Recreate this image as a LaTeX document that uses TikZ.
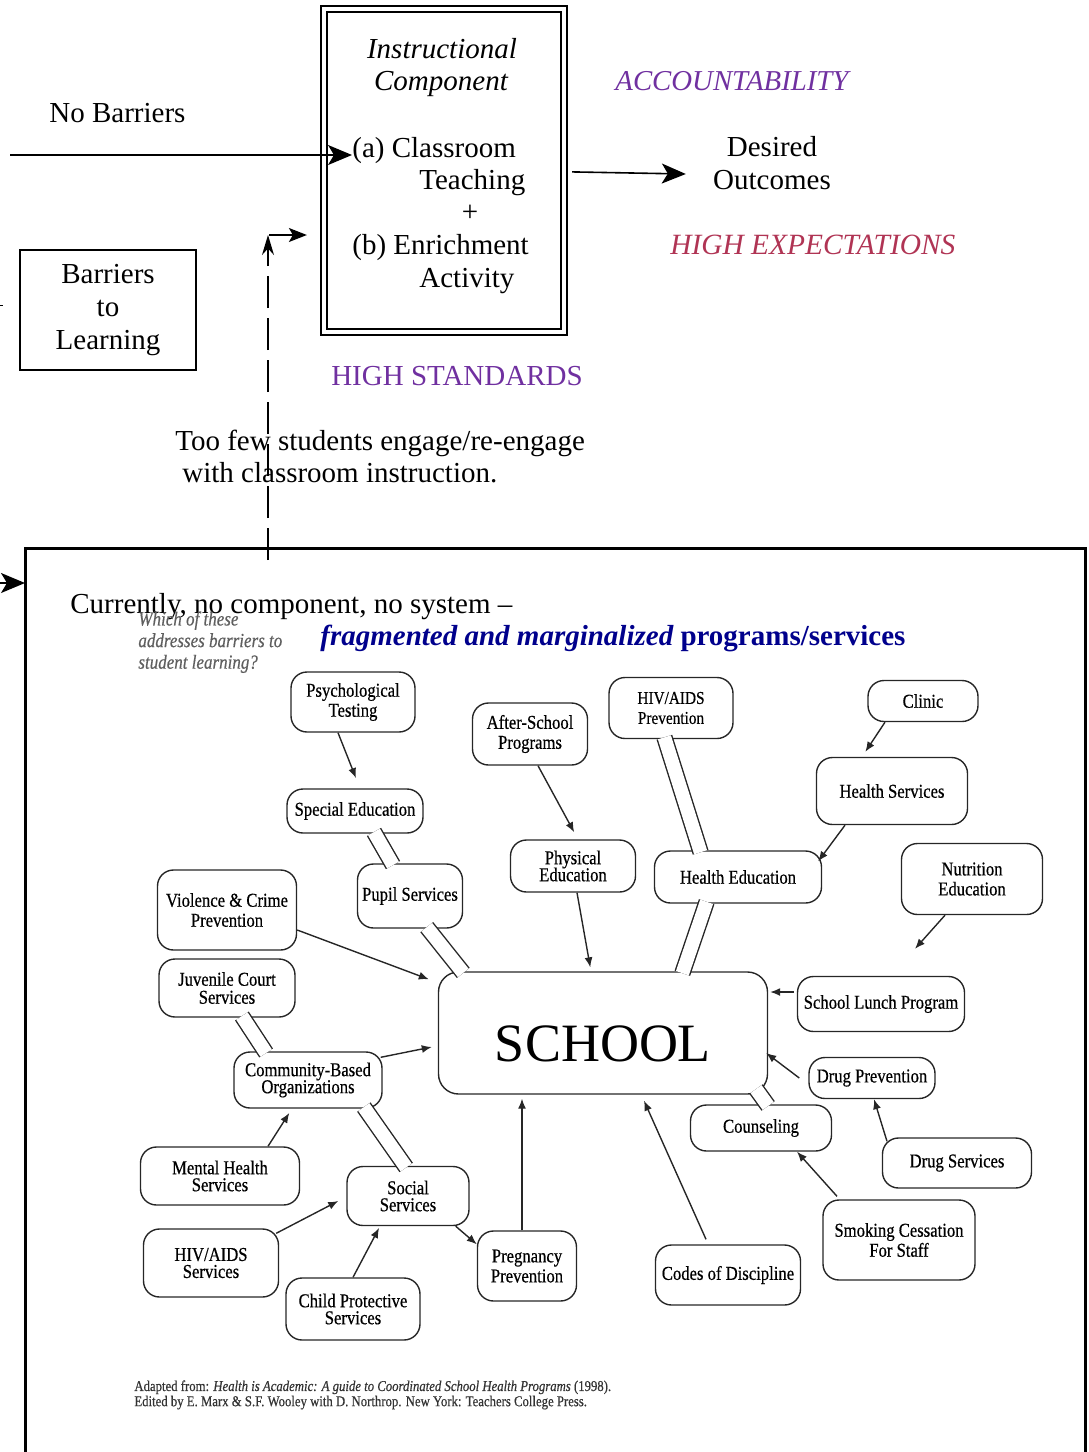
\documentclass[tikz,border=0pt]{standalone}
\usepackage{fontspec}
\setmainfont{Liberation Serif}
\newfontfamily\scanfont[FakeStretch=0.85,FakeBold=0.5]{Liberation Serif}
\usetikzlibrary{arrows.meta}

\definecolor{stdpurple}{RGB}{112,48,160}
\definecolor{exprose}{RGB}{176,52,84}
\definecolor{fragblue}{RGB}{0,0,140}
\definecolor{askgray}{RGB}{95,95,95}
\newcommand{\mainsize}{\fontsize{14.5}{16.5}\selectfont}
\newcommand{\scansize}{\scanfont\fontsize{9.8}{10}\selectfont}

\begin{document}
\begin{tikzpicture}[x=0.5pt, y=-0.5pt,
    txt/.style={font=\mainsize, inner sep=0pt},
    svc/.style={draw=black!85, line width=0.7pt, rounded corners=8pt, align=center, font=\scansize, inner sep=1pt},
    flow/.style={draw=black!85, line width=0.7pt, -{Latex[length=5pt,width=4pt]}},
    pipe/.style={draw=black!85, line width=0.7pt, double=white, double distance=6.8pt, shorten <=-1pt, shorten >=-1pt},
    bigarrow/.style={line width=0.8pt, -{Stealth[length=12pt,width=10pt,inset=3pt]}}]
    \useasboundingbox (0,0) rectangle (1088,1452);

    % upper half
    \node[draw, line width=1.1pt, double distance=2.2pt, minimum width=120pt, minimum height=161.5pt, inner sep=0pt] (instr) at (444,170.5) {};
    \node[txt, anchor=base, font=\mainsize\itshape] (instrA) at (442,58) {Instructional};
    \node[txt, anchor=base, font=\mainsize\itshape] (instrB) at (441,90) {Component};
    \node[txt, anchor=base west] (classroom) at (352,157) {(a) Classroom};
    \node[txt, anchor=base west] (teach) at (419,189) {Teaching};
    \node[txt] (plus) at (470,213) {+};
    \node[txt, anchor=base west] (enrich) at (352,254) {(b) Enrichment};
    \node[txt, anchor=base west] (activ) at (419,287) {Activity};

    \node[txt, anchor=base west] (nobar) at (49,122) {No Barriers};
    \node[draw, line width=0.6pt, minimum width=88pt, minimum height=60pt, align=center, font=\mainsize] (barr) at (108,310) {Barriers\\to\\Learning};
    \node[txt, anchor=base west, font=\fontsize{14.4}{16}\selectfont\itshape, text=stdpurple] (acc) at (615,90) {ACCOUNTABILITY};
    \node[txt, align=center] (outc) at (772,163) {Desired\\Outcomes};
    \node[txt, anchor=base west, font=\fontsize{14.7}{16}\selectfont\itshape, text=exprose] (hexp) at (670,254) {HIGH EXPECTATIONS};
    \node[txt, anchor=base, text=stdpurple] (hstd) at (457,385) {HIGH STANDARDS};
    \node[txt, anchor=base west] (few) at (175,450) {Too few students engage/re-engage};
    \node[txt, anchor=base west] (few2) at (182,482) {with classroom instruction.};

    \coordinate (nbstart) at (10,155);
    \draw[bigarrow] (nbstart) -- (nbstart -| classroom.west);
    \draw[bigarrow] ([xshift=3.5pt,yshift=-0.7pt]instr.east) -- ([xshift=-13.5pt,yshift=-5.5pt]outc.west);
    \draw (0,305) -- (3,305);

    \coordinate (dashfoot) at (268,560);
    \coordinate (dashtop) at (268,235);
    \draw[line width=0.8pt, dash pattern=on 16pt off 5pt, -{Stealth[length=10pt,width=6pt]}] (dashfoot) -- (dashtop);
    \draw[line width=0.8pt, -{Stealth[length=9pt,width=7pt,inset=2pt]}, shorten >=8pt] ([xshift=0.5pt]dashtop) -- (dashtop -| instr.west);

    % lower frame
    \draw[line width=1.5pt] (25,1470) -- (25,548) -- (1085,548) -- (1085,1470);
    \coordinate (fin) at (25,583);
    \draw[bigarrow] ([xshift=-20pt]fin) -- (fin);
    \node[txt, anchor=base west] (curr) at (70,613) {Currently, no component, no system --};
    \node[txt, anchor=base west, text=fragblue] (frag) at (320,645) {\bfseries\itshape fragmented and marginalized \upshape programs/services};
    \node[inner sep=0pt, anchor=north west, align=left, text=askgray, font=\scanfont\fontsize{10}{10.8}\selectfont\itshape] (ask) at (138,611) {Which of these\\addresses barriers to\\student learning?};

    % services
    \node[svc, minimum width=62pt, minimum height=30pt] (psych) at (353,702) {Psychological\\Testing};
    \node[svc, minimum width=57.5pt, minimum height=31pt] (after) at (530,734) {After-School\\Programs};
    \node[svc, minimum width=62pt, minimum height=30.5pt, font=\scanfont\fontsize{9}{10}\selectfont] (hivp) at (671,708) {HIV/AIDS\\Prevention};
    \node[svc, minimum width=55pt, minimum height=20.5pt] (clinic) at (923,701) {Clinic};
    \node[svc, minimum width=75.5pt, minimum height=33.5pt] (hserv) at (892,791) {Health Services};
    \node[svc, minimum width=68pt, minimum height=22pt] (sped) at (355,811) {Special Education};
    \node[svc, minimum width=62.5pt, minimum height=26pt] (phys) at (573,866) {Physical\\[-1.5pt]Education};
    \node[svc, minimum width=83.5pt, minimum height=26pt] (healthed) at (738,877) {Health Education};
    \node[svc, minimum width=70.5pt, minimum height=35.5pt] (nutr) at (972,879) {Nutrition\\Education};
    \node[svc, minimum width=52.5pt, minimum height=32pt] (pupil) at (410,896) {Pupil Services};
    \node[svc, minimum width=69.5pt, minimum height=40pt] (viol) at (227,910) {Violence \& Crime\\Prevention};
    \node[svc, minimum width=68pt, minimum height=29pt] (juv) at (227,988) {Juvenile Court\\[-1pt]Services};
    \node[svc, rounded corners=10pt, minimum width=164.5pt, minimum height=61pt, text height=28.8pt, text depth=0pt, font=\fontsize{27}{30}\selectfont] (school) at (603,1033) {SCHOOL};
    \node[svc, minimum width=74pt, minimum height=28pt] (cbo) at (308,1080) {Community-Based\\[-1.5pt]Organizations};
    \node[svc, minimum width=83.5pt, minimum height=27.5pt] (lunch) at (881,1004) {School Lunch Program};
    \node[svc, minimum width=63pt, minimum height=20.5pt] (drugp) at (872,1078) {Drug Prevention};
    \node[svc, minimum width=70.5pt, minimum height=23pt] (counsel) at (761,1128) {Counseling};
    \node[svc, minimum width=74.5pt, minimum height=25pt] (drugs) at (957,1163) {Drug Services};
    \node[svc, minimum width=79.5pt, minimum height=29pt] (mental) at (220,1176) {Mental Health\\[-1.5pt]Services};
    \node[svc, minimum width=61pt, minimum height=29.5pt] (social) at (408,1196) {Social\\[-1.5pt]Services};
    \node[svc, minimum width=76pt, minimum height=40pt] (smoke) at (899,1240) {Smoking Cessation\\For Staff};
    \node[svc, minimum width=67.5pt, minimum height=34pt] (hivs) at (211,1263) {HIV/AIDS\\[-1.5pt]Services};
    \node[svc, minimum width=49.5pt, minimum height=35pt] (preg) at (527,1266) {Pregnancy\\Prevention};
    \node[svc, minimum width=72.5pt, minimum height=30pt] (codes) at (728,1275) {Codes of Discipline};
    \node[svc, minimum width=67pt, minimum height=31pt] (child) at (353,1309) {Child Protective\\[-1.5pt]Services};

    % double links
    \draw[pipe] ([xshift=10pt]sped.south) -- ([xshift=-9pt]pupil.north);
    \draw[pipe] ([xshift=9pt]pupil.south) -- ([xshift=-70.5pt]school.north);
    \draw[pipe] ([xshift=-3pt]hivp.south) -- ([xshift=-19pt]healthed.north);
    \draw[pipe] ([xshift=-16pt]healthed.south) -- ([xshift=40pt]school.north);
    \draw[pipe] ([xshift=8pt]juv.south) -- ([xshift=-21.5pt]cbo.north);
    \draw[pipe] ([xshift=28.5pt]cbo.south) -- ([xshift=-1.5pt]social.north);
    \draw[pipe] ([xshift=-5.5pt,yshift=2pt]school.south east) -- ([xshift=3pt]counsel.north);

    % arrows
    \draw[flow, shorten >=5.5pt] ([xshift=-7.5pt]psych.south) -- ([xshift=2.5pt]sped.north);
    \draw[flow, shorten >=4pt] ([xshift=4pt]after.south) -- ([xshift=2.5pt]phys.north);
    \draw[flow, shorten >=3pt] ([xshift=-19pt]clinic.south) -- ([xshift=-15pt]hserv.north);
    \draw[flow] ([xshift=-23.5pt]hserv.south) -- ([xshift=-2pt,yshift=-5.5pt]healthed.north east);
    \draw[flow] ([xshift=-13.5pt]nutr.south) -- ([xshift=17pt,yshift=13.5pt]lunch.north);
    \draw[flow, shorten >=2pt] ([xshift=2pt]phys.south) -- ([xshift=-6pt]school.north);
    \draw[flow] ([yshift=-10pt]viol.east) -- ([xshift=-4.5pt,yshift=-4pt]school.north west);
    \draw[flow] ([xshift=-1pt,yshift=-3pt]cbo.north east) -- ([xshift=-3pt,yshift=-7pt]school.west);
    \draw[flow] ([xshift=-1.5pt,yshift=6pt]lunch.west) -- ([xshift=1pt,yshift=20.5pt]school.east);
    \draw[flow] ([xshift=-4.5pt]drugp.west) -- ([xshift=-1pt,yshift=-10pt]school.east);
    \draw[flow] ([xshift=-35pt,yshift=-2pt]drugs.north) -- ([xshift=1pt]drugp.south);
    \draw[flow] ([xshift=-31pt,yshift=1.5pt]smoke.north) -- ([xshift=18pt]counsel.south);
    \draw[flow] ([xshift=-11pt,yshift=2.5pt]codes.north) -- ([xshift=20.5pt,yshift=-3pt]school.south);
    \draw[flow, shorten >=2pt] ([xshift=-2.5pt]preg.north) -- ([xshift=-40.5pt]school.south);
    \draw[flow] ([xshift=-7pt]social.south east) -- ([yshift=-7pt]preg.north west);
    \draw[flow, shorten >=2.5pt] ([xshift=24pt]mental.north) -- ([xshift=-8pt]cbo.south);
    \draw[flow] ([xshift=-1.5pt,yshift=-2.5pt]hivs.north east) -- ([xshift=-4pt,yshift=-2.5pt]social.west);
    \draw[flow, shorten >=1pt] (child.north) -- ([xshift=-14pt]social.south);

    \node[inner sep=0pt, anchor=north west, align=left, text=black!80, font=\scanfont\fontsize{7.5}{7.6}\selectfont] (src) at (134,1380) {Adapted from: \textit{Health is Academic: A guide to Coordinated School Health Programs} (1998).\\Edited by E. Marx \& S.F. Wooley with D. Northrop. New York: Teachers College Press.};
\end{tikzpicture}
\end{document}
